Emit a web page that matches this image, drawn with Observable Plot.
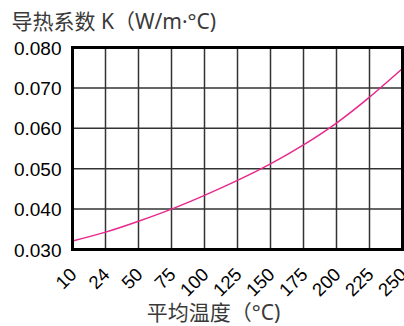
<!DOCTYPE html>
<html>
<head>
<meta charset="utf-8">
<script src="https://cdn.jsdelivr.net/npm/d3@7"></script>
<script src="https://cdn.jsdelivr.net/npm/@observablehq/plot@0.6"></script>
<style>
  html, body { margin: 0; padding: 0; background: #fff; }
</style>
</head>
<body>
<div id="chart"></div>
<script>
const temps = ["10", "24", "50", "75", "100", "125", "150", "175", "200", "225", "250"];
const conductivity = [0.0321, 0.0343, 0.0370, 0.0400, 0.0434, 0.0471, 0.0512, 0.0559, 0.0613, 0.0677, 0.0748];
const yTicks = [0.030, 0.040, 0.050, 0.060, 0.070, 0.080];
const yTitle = "导热系数 K（W/m·°C)";
const xTitle = "平均温度（°C)";

const data = temps.map((t, i) => ({t, k: conductivity[i]}));
const titleFont = "'Noto Sans', 'Noto Sans CJK SC', sans-serif";

const chart = Plot.plot({
  width: 404,
  height: 326,
  marginTop: 47,
  marginLeft: 72,
  marginRight: 2,
  marginBottom: 77,
  style: {fontFamily: "'Liberation Sans', Arial, sans-serif", fontSize: "19px", color: "#000", background: "#fff"},
  x: {type: "point", domain: temps, padding: 0},
  y: {domain: [0.03, 0.08]},
  marks: [
    Plot.gridX(temps, {stroke: "#333", strokeOpacity: 1, strokeWidth: 1.5}),
    Plot.gridY(yTicks, {stroke: "#333", strokeOpacity: 1, strokeWidth: 1.5}),
    Plot.line(data, {x: "t", y: "k", stroke: "#e8288c", strokeWidth: 1.5, curve: "natural"}),
    Plot.frame({stroke: "#000", strokeWidth: 3}),
    Plot.axisY(yTicks, {tickSize: 0, tickPadding: 11, tickFormat: d3.format(".3f"), label: null, fontSize: 19, dy: 1}),
    Plot.axisX(temps, {tickSize: 0, tickPadding: 22, tickRotate: -45, label: null, fontSize: 18.5, dx: 1}),
    Plot.text([yTitle], {frameAnchor: "top-left", textAnchor: "start", dx: -61, dy: -33, fontSize: 21, fill: "#3a3a3a", fontFamily: titleFont}),
    Plot.text([xTitle], {frameAnchor: "bottom", dx: -24, dy: 70, fontSize: 21, fill: "#3a3a3a", fontFamily: titleFont})
  ]
});
document.getElementById("chart").appendChild(chart);
</script>
</body>
</html>
